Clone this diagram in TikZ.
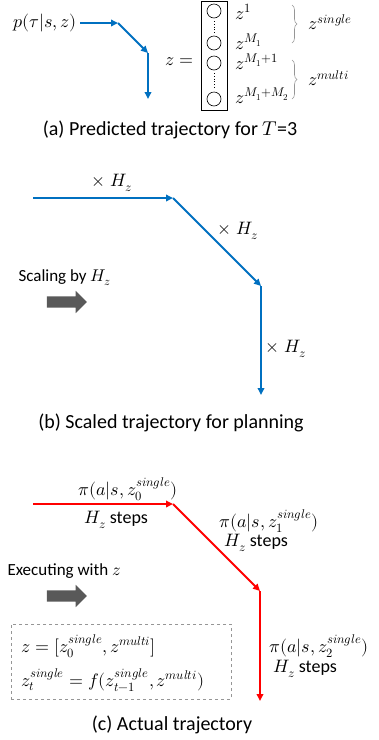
\documentclass[tikz,border=0pt]{standalone}
\usepackage{fontspec}
\usepackage{unicode-math}
\setmainfont{Carlito}
\setmathfont{latinmodern-math.otf}
\usetikzlibrary{arrows.meta,shapes.arrows,decorations.pathreplacing}
\definecolor{trajblue}{RGB}{0,112,192}
\definecolor{trajred}{RGB}{255,0,0}
\definecolor{fatgray}{RGB}{89,89,89}
\definecolor{bracegray}{RGB}{150,150,150}

\begin{document}
\begin{tikzpicture}[x=1pt,y=-1pt,
	traj/.style={line width=1.8pt,-{Triangle[length=7pt,width=6.5pt]}},
	fatarrow/.style={single arrow,fill=fatgray,draw=none,inner xsep=0pt,inner ysep=5.5pt,minimum height=40,single arrow head extend=5.5pt,single arrow tip angle=90},
	mathlbl/.style={font=\fontsize{18}{21}\selectfont},
	txtlbl/.style={font=\fontsize{17}{20}\selectfont},
	caption/.style={font=\fontsize{20}{24}\selectfont},
	brace/.style={decorate,decoration={brace,amplitude=5pt},draw=bracegray,line width=0.6pt}]
	\useasboundingbox (0,0) rectangle (379,740);

	\begin{scope}[every node/.style={mathlbl}]
		\node[anchor=east] (ptau) at (80,23) {$p(\tau|s,z)$};
		\coordinate (a1) at (118,23);
		\coordinate (a2) at (148,53);
		\coordinate (a3) at (148,99);
		\draw[traj,trajblue] (ptau.east) -- (a1);
		\draw[traj,trajblue] (a1) -- (a2);
		\draw[traj,trajblue] (a2) -- (a3);

		\node[draw,line width=0.8pt,minimum width=26,minimum height=109,inner sep=0pt] (zvec) at (214,55.5) {};
		\node[anchor=east] (zeq) at (197,62) {$z=$};
		\foreach \name/\y in {c1/11,c2/43,c3/63,c4/99}
			\node[circle,draw,line width=0.6pt,minimum size=14,inner sep=0pt] (\name) at (214,\y) {};
		\draw[dotted,line width=0.7pt,shorten <=3pt,shorten >=3pt] (c1) -- (c2);
		\draw[dotted,line width=0.7pt,shorten <=3pt,shorten >=3pt] (c3) -- (c4);

		\begin{scope}[every node/.style={font=\fontsize{18}{21}\selectfont,anchor=west,inner sep=1pt}]
			\node (z1) at (234,12) {$z^{1}$};
			\node (zM1) at (234,42) {$z^{M_1}$};
			\node (zM11) at (234,62) {$z^{M_1+1}$};
			\node (zM12) at (234,96) {$z^{M_1+M_2}$};
		\end{scope}
		\coordinate (s1) at (292,5);
		\coordinate (s2) at (292,43);
		\coordinate (m1) at (292,60);
		\coordinate (m2) at (292,99);
		\draw[brace] (s1) -- (s2);
		\draw[brace] (m1) -- (m2);
		\node[anchor=west] (zsingle) at (305,22) {$z^{single}$};
		\node[anchor=west] (zmulti) at (305,78) {$z^{multi}$};
	\end{scope}
	\node[caption] (capa) at (170,130) {(a) Predicted trajectory for $T$=3};

	\coordinate (b0) at (33,198);
	\coordinate (b1) at (173,198);
	\coordinate (b2) at (261,286);
	\coordinate (b3) at (261,395);
	\draw[traj,trajblue] (b0) -- (b1);
	\draw[traj,trajblue] (b1) -- (b2);
	\draw[traj,trajblue] (b2) -- (b3);
	\begin{scope}[every node/.style={mathlbl}]
		\node (h1) at (112,183) {$\times\;H_z$};
		\node (h2) at (238,231) {$\times\;H_z$};
		\node (h3) at (286,349) {$\times\;H_z$};
	\end{scope}
	\node[txtlbl,anchor=west] (scaling) at (15,278) {Scaling by $H_z$};
	\node[fatarrow] (scalearr) at (64,302) {};
	\node[caption] (capb) at (171,423) {(b) Scaled trajectory for planning};

	\coordinate (r0) at (33,504);
	\coordinate (r1) at (173,504);
	\coordinate (r2) at (260,591);
	\coordinate (r3) at (260,701);
	\draw[traj,trajred] (r0) -- (r1);
	\draw[traj,trajred] (r1) -- (r2);
	\draw[traj,trajred] (r2) -- (r3);
	\begin{scope}[every node/.style={mathlbl}]
		\node (pi0) at (128,489) {$\pi(a|s,z_0^{single})$};
		\node (st0) at (116,520) {$H_z$ steps};
		\node (pi1) at (269,521) {$\pi(a|s,z_1^{single})$};
		\node (st1) at (256,543) {$H_z$ steps};
		\node (pi2) at (319,646) {$\pi(a|s,z_2^{single})$};
		\node (st2) at (305,669) {$H_z$ steps};
	\end{scope}
	\node[txtlbl,anchor=west] (executing) at (4,571) {Executing with $z$};
	\node[fatarrow] (execarr) at (64,596) {};
	\node[draw=bracegray,dashed,line width=0.7pt,minimum width=220,minimum height=75,inner sep=0pt] (eqbox) at (121,661.5) {};
	\begin{scope}[every node/.style={mathlbl,anchor=west,inner sep=0pt}]
		\node (eq1) at (21,646) {$z=[z_0^{single},z^{multi}]$};
		\node (eq2) at (21,680) {$z_t^{single}=f(z_{t-1}^{single},z^{multi})$};
	\end{scope}
	\node[caption] (capc) at (172,725) {(c) Actual trajectory};
\end{tikzpicture}
\end{document}
